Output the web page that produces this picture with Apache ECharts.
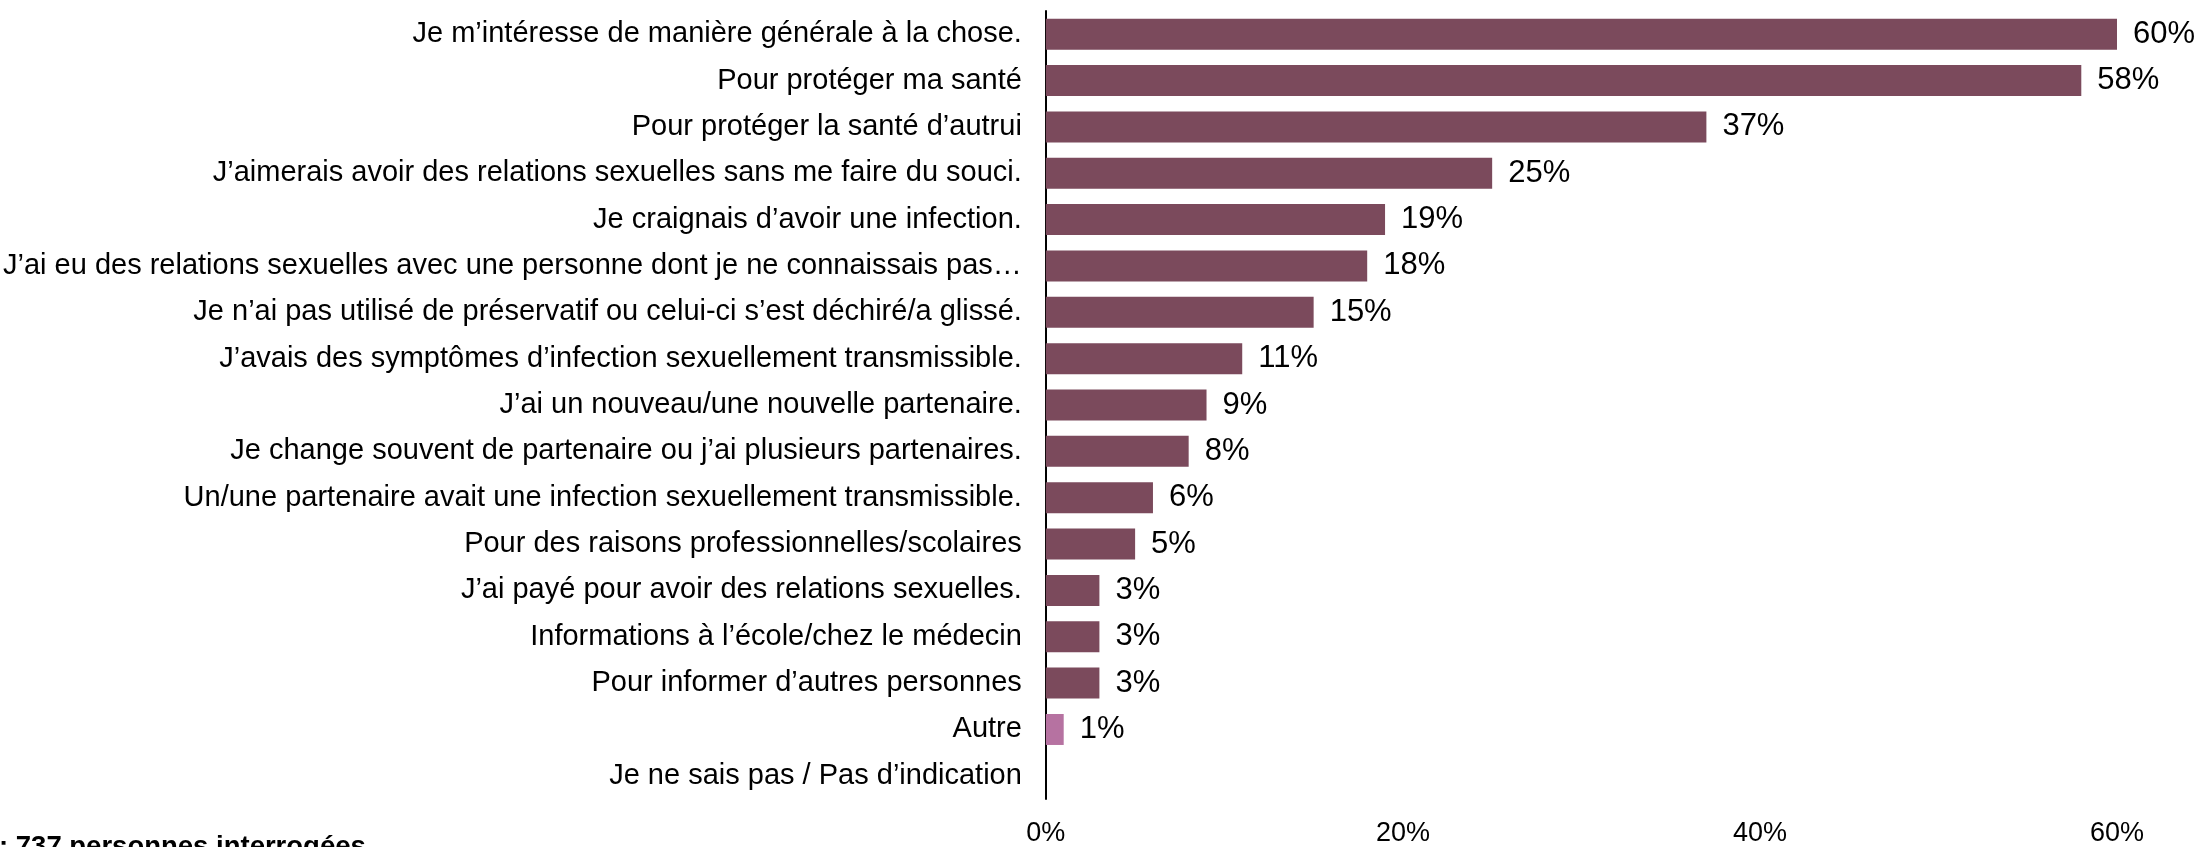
<!DOCTYPE html>
<html>
<head>
<meta charset="utf-8">
<script src="https://cdn.jsdelivr.net/npm/echarts@6/dist/echarts.min.js"></script>
<style>
  html, body { margin: 0; padding: 0; background: #fff; }
  #chart { width: 2206px; height: 847px; }
</style>
</head>
<body>
<div id="chart"></div>
<script>
// reasons, top to bottom
const categories = [
  'Je m’intéresse de manière générale à la chose.',
  'Pour protéger ma santé',
  'Pour protéger la santé d’autrui',
  'J’aimerais avoir des relations sexuelles sans me faire du souci.',
  'Je craignais d’avoir une infection.',
  'J’ai eu des relations sexuelles avec une personne dont je ne connaissais pas…',
  'Je n’ai pas utilisé de préservatif ou celui-ci s’est déchiré/a glissé.',
  'J’avais des symptômes d’infection sexuellement transmissible.',
  'J’ai un nouveau/une nouvelle partenaire.',
  'Je change souvent de partenaire ou j’ai plusieurs partenaires.',
  'Un/une partenaire avait une infection sexuellement transmissible.',
  'Pour des raisons professionnelles/scolaires',
  'J’ai payé pour avoir des relations sexuelles.',
  'Informations à l’école/chez le médecin',
  'Pour informer d’autres personnes',
  'Autre',
  'Je ne sais pas / Pas d’indication'
];
const shares = [60, 58, 37, 25, 19, 18, 15, 11, 9, 8, 6, 5, 3, 3, 3, 1, 0];
const xTicks = [0, 20, 40, 60];
const baseNote = ': 737 personnes interrogées';

const font = '"Liberation Sans", Arial, sans-serif';
const chart = echarts.init(document.getElementById('chart'));

const option = {
  animation: false,
  backgroundColor: '#fff',
  textStyle: { fontFamily: font },
  grid: { left: 1043, right: 89, top: 11, bottom: 44, containLabel: false },
  xAxis: {
    type: 'value',
    min: xTicks[0],
    max: xTicks[xTicks.length - 1],
    interval: xTicks[1] - xTicks[0],
    splitLine: { show: false },
    axisLine: { show: false },
    axisTick: { show: false },
    axisLabel: { formatter: '{value}%', fontSize: 27, color: '#000', margin: 21, fontFamily: font }
  },
  yAxis: {
    type: 'category',
    inverse: true,
    data: categories,
    axisLine: { show: true, lineStyle: { color: '#000', width: 2 } },
    axisTick: { show: false },
    axisLabel: { fontSize: 29, color: '#000', margin: 24, fontFamily: font }
  },
  series: [{
    type: 'bar',
    data: shares,
    barWidth: 31,
    itemStyle: {
      color: function (p) {
        return categories[p.dataIndex] === 'Autre' ? '#b672a1' : '#7b4a5c';
      }
    },
    label: {
      show: true,
      position: 'right',
      distance: 16,
      fontSize: 31,
      color: '#000',
      fontFamily: font,
      formatter: function (p) { return p.value > 0 ? p.value + '%' : ''; }
    }
  }],
  graphic: [{
    type: 'text',
    left: -1,
    top: 833,
    style: { text: baseNote, font: 'bold 27.5px ' + font, fill: '#000' }
  }]
};

chart.setOption(option);
</script>
</body>
</html>
